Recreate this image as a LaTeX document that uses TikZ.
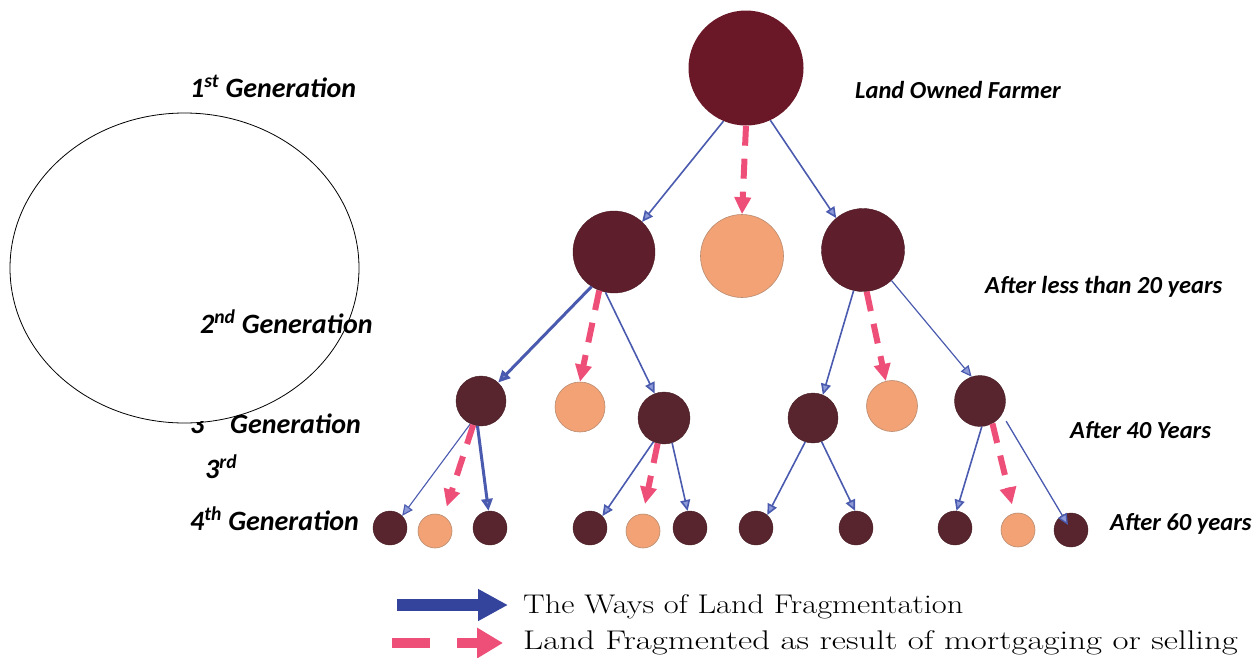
\documentclass[tikz,border=0pt]{standalone}
\usepackage{fontspec}
\newfontfamily\labfont{Carlito}
\newfontfamily\legfontA{Latin Modern Roman}[FakeStretch=1.2]
\newfontfamily\legfontB{Latin Modern Roman}[FakeStretch=1.29]
\usetikzlibrary{arrows.meta}
\definecolor{darkA}{HTML}{6A1828}
\definecolor{darkB}{HTML}{5E1E2C}
\definecolor{darkC}{HTML}{58242E}
\definecolor{liteO}{HTML}{F2A274}
\definecolor{liteE}{HTML}{B98A70}
\definecolor{lineblue}{HTML}{4A5AAE}
\definecolor{tipblue}{HTML}{8C9AD8}
\definecolor{pinkc}{HTML}{EE4F78}
\definecolor{legblue}{HTML}{34449C}
\tikzset{
  dark/.style={circle, inner sep=0pt, fill=darkB, draw=darkB!80!black, line width=0.4pt},
  darksm/.style={circle, inner sep=0pt, fill=darkC, draw=darkC!80!black, line width=0.4pt},
  lite/.style={circle, inner sep=0pt, fill=liteO, draw=liteE, line width=0.6pt},
  blueline/.style={draw=lineblue, line width=1.6pt, -{Triangle[length=11pt,width=10pt,fill=tipblue]}},
  bluethick/.style={draw=lineblue, line width=3pt, -{Triangle[length=12pt,width=11pt,fill=tipblue]}},
  pinkdash/.style={draw=pinkc, line width=6pt, dash pattern=on 20pt off 13pt, -{Triangle[length=17pt,width=16pt]}},
  lab/.style={font=\labfont\bfseries\itshape\fontsize{21}{21}\selectfont, inner sep=0pt, anchor=base west},
  labbig/.style={lab, font=\labfont\bfseries\itshape\fontsize{28}{28}\selectfont},
  labmid/.style={lab, font=\labfont\bfseries\itshape\fontsize{24.5}{24.5}\selectfont},
  legA/.style={font=\legfontA\fontsize{27}{27}\selectfont, inner sep=0pt, anchor=base west},
  legB/.style={font=\legfontB\fontsize{27}{27}\selectfont, inner sep=0pt, anchor=base west}
}
\begin{document}
\begin{tikzpicture}[x=1pt,y=-1pt]
\useasboundingbox (0,0) rectangle (1254,657);
% ellipse on the left
\draw[line width=0.8pt] (184.5,268) ellipse [x radius=174.5pt, y radius=155pt];
% circles
\node[circle, inner sep=0pt, fill=darkA, minimum size=115pt] (top) at (746,68) {};
\node[dark, minimum size=82pt] (a) at (614,252) {};
\node[lite, minimum size=83pt] (b) at (742,256) {};
\node[dark, minimum size=83pt] (c) at (863,250) {};
\node[darksm, minimum size=50pt] (aa) at (481,401) {};
\node[lite, minimum size=50pt] (ab) at (580,407) {};
\node[darksm, minimum size=52pt] (ac) at (664,418) {};
\node[darksm, minimum size=50pt] (ca) at (813,418) {};
\node[lite, minimum size=51pt] (cb) at (892,406) {};
\node[darksm, minimum size=51pt] (cc) at (980,401) {};
\node[darksm, minimum size=34pt] (l1) at (390,528) {};
\node[lite, minimum size=34pt] (l2) at (435,531) {};
\node[darksm, minimum size=34pt] (l3) at (490,528) {};
\node[darksm, minimum size=34pt] (l4) at (590,528) {};
\node[lite, minimum size=34pt] (l5) at (643,531) {};
\node[darksm, minimum size=34pt] (l6) at (690,528) {};
\node[darksm, minimum size=34pt] (l7) at (756,528) {};
\node[darksm, minimum size=34pt] (l8) at (856,528) {};
\node[darksm, minimum size=34pt] (l9) at (955,528) {};
\node[lite, minimum size=34pt] (l10) at (1018,530) {};
\node[darksm, minimum size=34pt] (l11) at (1071,530) {};
% connectors level 1 -> 2
\draw[blueline] (top.247) -- (a.47);
\draw[pinkdash] (top.south) -- (b.north);
\draw[blueline] (top.295) -- (c.130);
% level 2 -> 3
\draw[bluethick] (a.237) -- (aa.47);
\draw[pinkdash] (a.249) -- (ab.north);
\draw[blueline] (a.258) -- (ac.111);
\draw[blueline] (c.257) -- (ca.67);
\draw[pinkdash] (c.275) -- (cb.104);
\draw[blueline, line width=1.2pt] (c.313) -- (cc.109);
% level 3 -> 4
\draw[blueline, line width=1.1pt] (aa.245) -- (l1.45);
\draw[pinkdash, shorten >=10pt] (aa.252) -- (l2.60);
\draw[bluethick] (aa.262) -- (l3.95);
\draw[blueline] (ac.246) -- (l4.44);
\draw[pinkdash, shorten >=10pt] (ac.256) -- (l5.north);
\draw[blueline] (ac.288) -- (l6.98);
\draw[blueline] (ca.252) -- (l7.49);
\draw[blueline] (ca.290) -- (l8.93);
\draw[blueline] (cc.274) -- (l9.85);
\draw[pinkdash, shorten >=9pt] (cc.299) -- (l10.103);
\draw[blueline, line width=1.3pt, shorten <=8pt, shorten >=6pt] (cc.329) -- (l11.center);
% labels
\node[labbig] (g1) at (190,97) {1\textsuperscript{st} Generation};
\node[labbig] (g2) at (200,333) {2\textsuperscript{nd} Generation};
\begin{scope}
\clip (180,421) rectangle (225,445);
\node[labbig] (g3n) at (190,433) {3};
\end{scope}
\node[labbig] (g3) at (230,433) {Generation};
\node[labbig] (g3b) at (205,478) {3\textsuperscript{rd}};
\node[labbig] (g4) at (190,530) {4\textsuperscript{th} Generation};
\node[labmid] (y0) at (855,98) {Land Owned Farmer};
\node[labmid] (y20) at (985,293) {After less than 20 years};
\node[labmid] (y40) at (1070,438) {After 40 Years};
\node[labmid] (y60) at (1110,530) {After 60 years};
% legend
\coordinate (b1) at (397,605);
\coordinate (b2) at (508,605);
\draw[draw=legblue, line width=12pt, -{Triangle[length=30pt,width=30pt]}] (b1) -- (b2);
\coordinate (p1) at (392,643);
\coordinate (p2) at (430,643);
\coordinate (p3) at (457,643);
\coordinate (p4) at (503,643);
\draw[draw=pinkc, line width=10pt] (p1) -- (p2);
\draw[draw=pinkc, line width=10pt, -{Triangle[length=26pt,width=29pt]}] (p3) -- (p4);
\node[legA] (lt1) at (523,613) {The Ways of Land Fragmentation};
\node[legB] (lt2) at (523,649) {Land Fragmented as result of mortgaging or selling};
\end{tikzpicture}
\end{document}
